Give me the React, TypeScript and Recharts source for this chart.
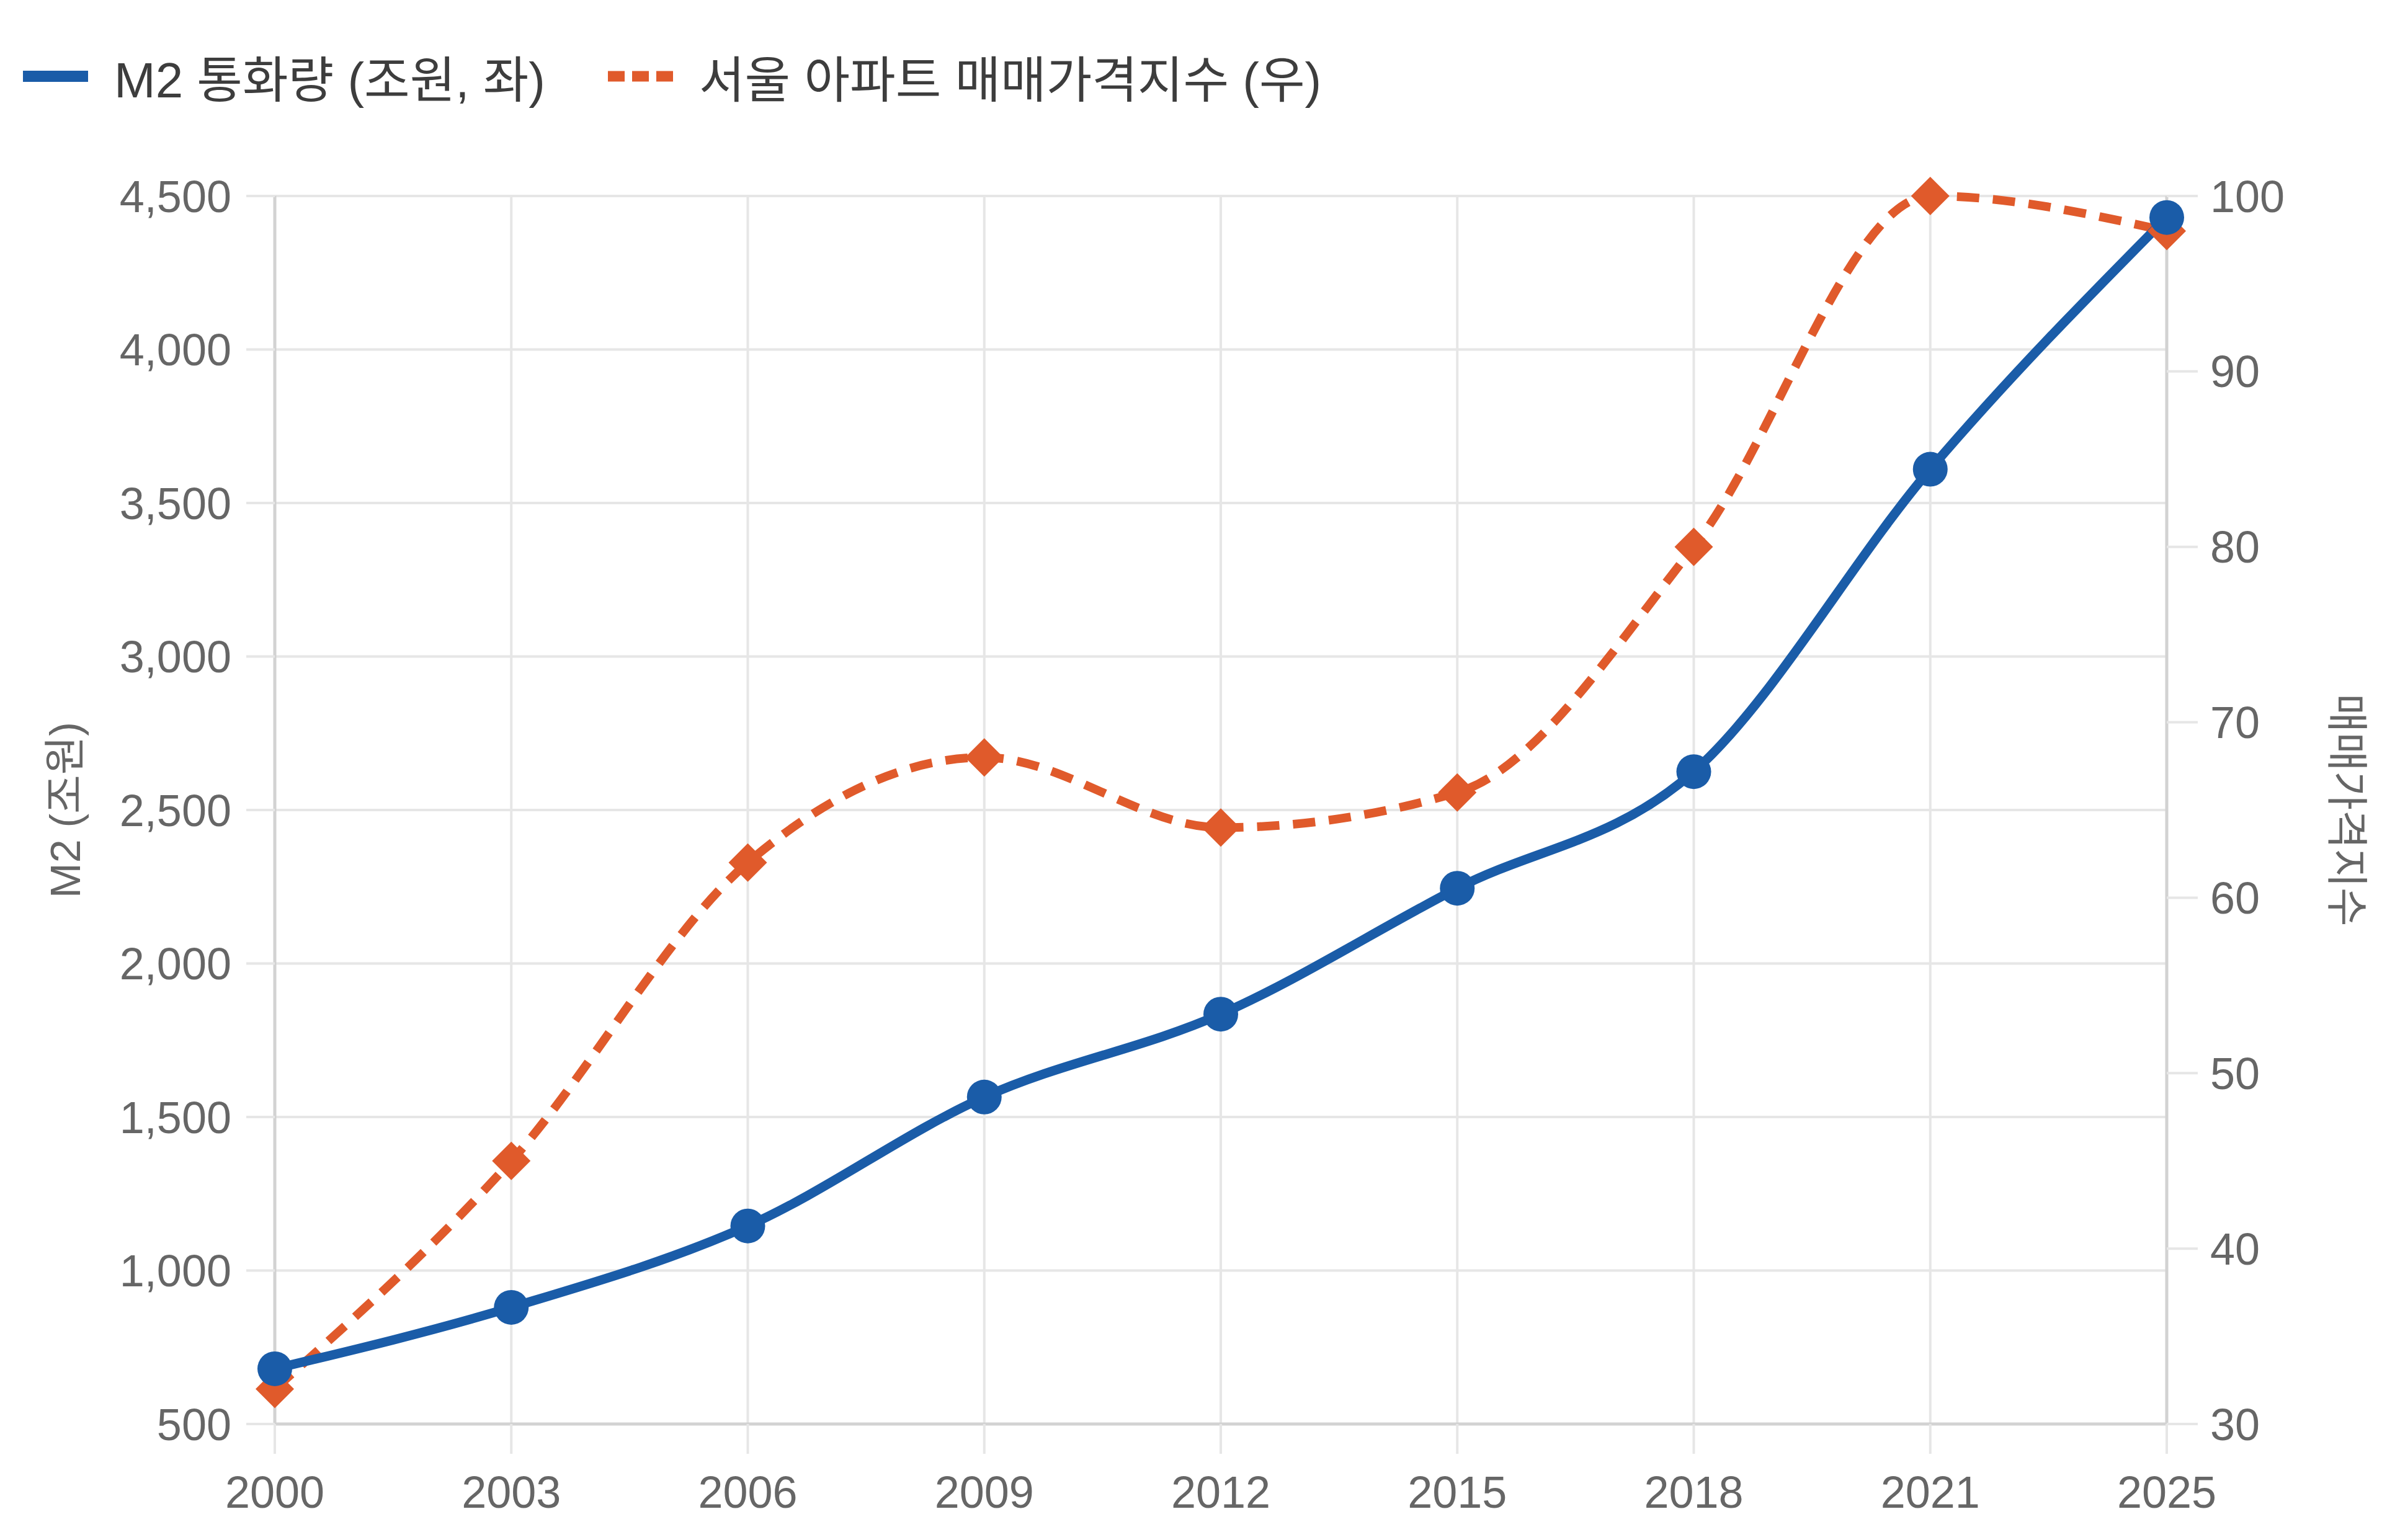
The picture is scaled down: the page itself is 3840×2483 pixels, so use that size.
import React from 'react';
import { LineChart, Line, XAxis, YAxis, CartesianGrid, Label } from 'recharts';

const years = ['2000', '2003', '2006', '2009', '2012', '2015', '2018', '2021', '2025'];
const m2Values = [680, 880, 1145, 1565, 1835, 2245, 2625, 3610, 4430];
const indexValues = [32, 45, 62, 68, 64, 66, 80, 100, 98];
const leftTicks = [500, 1000, 1500, 2000, 2500, 3000, 3500, 4000, 4500];
const rightTicks = [30, 40, 50, 60, 70, 80, 90, 100];

const seriesNames = ['M2 통화량 (조원, 좌)', '서울 아파트 매매가격지수 (우)'];
const leftTitle = 'M2 (조원)';
const rightTitle = '매매가격지수';

const BLUE = '#1a5ca8';
const ORANGE = '#e05a2b';
const GRID = '#e6e6e6';
const AXIS = '#d2d2d2';
const TICK_COLOR = '#666666';
const FONT = "'Liberation Sans', Arial, 'Noto Sans CJK KR', sans-serif";

const data = years.map((y, i) => ({ year: y, m2: m2Values[i], idx: indexValues[i] }));

const fmt = (v: number) => v.toLocaleString('en-US');

const Diamond = (props: any) => {
  const { cx, cy, index } = props;
  if (cx == null || cy == null) return <g key={`d-${index}`} />;
  const s = 31;
  return (
    <path
      key={`d-${index}`}
      d={`M${cx},${cy - s} L${cx + s},${cy} L${cx},${cy + s} L${cx - s},${cy} Z`}
      fill={ORANGE}
    />
  );
};

const tickStyle = { fontSize: 72, fill: TICK_COLOR, fontFamily: FONT };

export default function App() {
  return (
    <div style={{ position: 'absolute', left: 0, top: 0, width: 3840, height: 2483, background: '#ffffff', fontFamily: FONT }}>
      <svg width={2400} height={220} style={{ position: 'absolute', left: 0, top: 0 }}>
        <rect x={37} y={114} width={105} height={18} fill={BLUE} />
        <text x={184} y={157} fontSize={80} fill="#3d3d3d" fontFamily={FONT}>{seriesNames[0]}</text>
        <line x1={980} y1={123} x2={1085} y2={123} stroke={ORANGE} strokeWidth={17} strokeDasharray="27 12" />
        <text x={1127} y={157} fontSize={80} fill="#3d3d3d" fontFamily={FONT}>{seriesNames[1]}</text>
      </svg>
      <div style={{ position: 'absolute', left: 0, top: 0 }}>
        <LineChart width={3840} height={2483} data={data} margin={{ top: 316, right: 0, bottom: 0, left: 0 }}>
          <CartesianGrid yAxisId="left" stroke={GRID} strokeWidth={4} />
          <XAxis
            dataKey="year"
            height={187}
            interval={0}
            tick={tickStyle}
            tickSize={48}
            tickMargin={36}
            tickLine={{ stroke: GRID, strokeWidth: 4 }}
            axisLine={{ stroke: AXIS, strokeWidth: 5 }}
          />
          <YAxis
            yAxisId="left"
            orientation="left"
            width={443}
            domain={[500, 4500]}
            ticks={leftTicks}
            tickFormatter={fmt}
            tick={tickStyle}
            tickSize={46}
            tickMargin={24}
            tickLine={{ stroke: GRID, strokeWidth: 4 }}
            axisLine={{ stroke: AXIS, strokeWidth: 5 }}
          >
            <Label
              content={(p: any) => {
                const vb = p.viewBox || {};
                const cx = 105;
                const cy = (vb.y ?? 316) + (vb.height ?? 1980) / 2;
                return (
                  <text x={cx} y={cy} transform={`rotate(-90, ${cx}, ${cy})`} textAnchor="middle" dominantBaseline="central" fontSize={68} fill={TICK_COLOR} fontFamily={FONT}>
                    {leftTitle}
                  </text>
                );
              }}
            />
          </YAxis>
          <YAxis
            yAxisId="right"
            orientation="right"
            width={347}
            domain={[30, 100]}
            ticks={rightTicks}
            tick={tickStyle}
            tickSize={50}
            tickMargin={20}
            tickLine={{ stroke: GRID, strokeWidth: 4 }}
            axisLine={{ stroke: AXIS, strokeWidth: 5 }}
          >
            <Label
              content={(p: any) => {
                const vb = p.viewBox || {};
                const cx = 3783;
                const cy = (vb.y ?? 316) + (vb.height ?? 1980) / 2;
                return (
                  <text x={cx} y={cy} transform={`rotate(90, ${cx}, ${cy})`} textAnchor="middle" dominantBaseline="central" fontSize={68} fill={TICK_COLOR} fontFamily={FONT}>
                    {rightTitle}
                  </text>
                );
              }}
            />
          </YAxis>
          <Line
            yAxisId="right"
            type="monotone"
            dataKey="idx"
            stroke={ORANGE}
            strokeWidth={14}
            strokeDasharray="36 22"
            dot={Diamond}
            activeDot={false}
            isAnimationActive={false}
          />
          <Line
            yAxisId="left"
            type="monotone"
            dataKey="m2"
            stroke={BLUE}
            strokeWidth={15}
            dot={{ r: 28, fill: BLUE, stroke: BLUE, strokeWidth: 0 }}
            activeDot={false}
            isAnimationActive={false}
          />
        </LineChart>
      </div>
    </div>
  );
}
